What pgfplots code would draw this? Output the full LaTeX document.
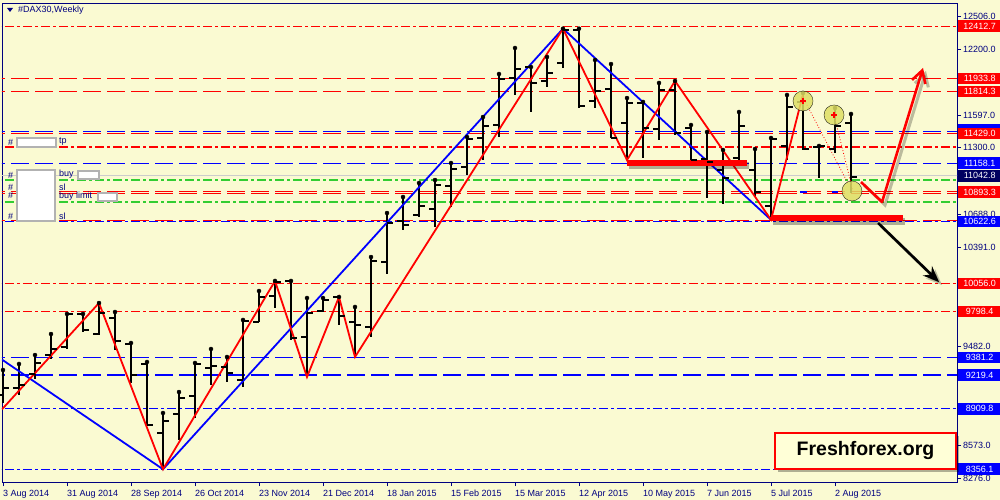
\documentclass[border=0pt]{standalone}
\usepackage{fontspec}
\setmainfont{Liberation Sans}
\usepackage{pgfplots}
\pgfplotsset{compat=1.18}
\usepackage{pgfplotstable}
\usetikzlibrary{arrows.meta}

\definecolor{bg}{RGB}{250,250,210}
\definecolor{navy}{RGB}{0,0,128}
\definecolor{mtred}{RGB}{255,0,0}
\definecolor{mtblue}{RGB}{0,0,255}
\definecolor{mtgreen}{RGB}{50,205,50}
\definecolor{circ}{RGB}{222,222,100}
\definecolor{labnavy}{RGB}{0,0,96}

\tikzset{
  mtdash/.style={dash pattern=on 18pt off 6pt},
  mtdashdot/.style={dash pattern=on 9pt off 3pt on 3pt off 3pt},
}

\pgfdeclareplotmark{ohlcopen}{\pgfpathmoveto{\pgfpoint{-6pt}{0pt}}\pgfpathlineto{\pgfpoint{0pt}{0pt}}\pgfusepathqstroke}
\pgfdeclareplotmark{ohlcclose}{\pgfpathmoveto{\pgfpoint{0pt}{0pt}}\pgfpathlineto{\pgfpoint{6pt}{0pt}}\pgfusepathqstroke}

% weekly bars, i = week from 3 Aug 2014
\pgfplotstableread{
i  o     h     l     c
0  9036  9265  8963  9100
1  9100  9320  9036  9127
2  9228  9402  9182  9329
3  9402  9594  9366  9457
4  9475  9778  9457  9778
5  9778  9778  9613  9631
6  9594  9878  9585  9787
7  9741  9796  9448  9530
8  9503  9512  9146  9219
9  9320  9338  8761  8761
10 8688  8871  8356  8798
11 8862  9063  8624  9008
12 9027  9329  8825  9320
13 9283  9457  9127  9301
14 9292  9384  9155  9237
15 9173  9723  9109  9713
16 9704  9988  9704  9933
17 9942  10080 9833  10071
18 10080 10080 9539  9558
19 9567  9924  9201  9787
20 9805  9924  9796  9906
21 9933  9933  9677  9759
22 9704  9842  9384  9677
23 9658  10299 9567  10263
24 10254 10702 10144 10611
25 10629 10849 10547 10592
26 10684 10977 10666 10766
27 10739 11004 10574 10959
28 10950 11160 10757 11105
29 11123 11398 11050 11380
30 11389 11581 11187 11499
31 11508 11975 11398 11929
32 11938 12213 11783 12021
33 12039 12039 11627 11893
34 11911 12131 11856 11984
35 12076 12390 12030 12380
36 12380 12390 11664 11682
37 11728 12103 11664 11819
38 11838 12066 11389 11389
39 11526 11755 11187 11709
40 11709 11719 11206 11480
41 11471 11893 11371 11828
42 11828 11911 11416 11435
43 11480 11508 11133 11187
44 11197 11444 10840 11169
45 11096 11279 10785 11023
46 11206 11627 11187 11499
47 11096 11288 10858 10895
48 10766 11389 10640 11380
49 11316 11783 11187 11673
50 11719 11801 11279 11288
51 11307 11316 11023 11316
52 11288 11664 11252 11499
53 11526 11609 10885 11032
}\ohlc

% level line: colour, style, price
\newcommand{\lvl}[3]{\addplot[draw=#1, line width=1.2pt, #2] coordinates {(-1,#3) (61,#3)};}
\newcommand{\plab}[3]{\node[fill=#2, text=white, anchor=west, minimum width=43pt,
  minimum height=11.5pt, inner sep=0pt, font=\fontsize{9}{10}\selectfont] at ([xshift=1pt]#1) {#3};}

\begin{document}
\begin{tikzpicture}[x=1pt,y=1pt]
\fill[bg] (0,0) rectangle (1000,500);
\useasboundingbox (0,0) rectangle (1000,500);

\begin{axis}[
  at={(2pt,18pt)}, anchor=south west,
  scale only axis, width=955pt, height=479pt,
  xmin=-0.0625, xmax=59.625, ymin=8239.3, ymax=12625,
  axis line style={navy, line width=0.8pt},
  tick style={navy, line width=0.8pt},
  tick align=outside, major tick length=4pt,
  xtick pos=bottom, ytick pos=right, yticklabel pos=right,
  xtick={0,4,...,52},
  xticklabels={3 Aug 2014, 31 Aug 2014, 28 Sep 2014, 26 Oct 2014, 23 Nov 2014,
    21 Dec 2014, 18 Jan 2015, 15 Feb 2015, 15 Mar 2015, 12 Apr 2015,
    10 May 2015, 7 Jun 2015, 5 Jul 2015, 2 Aug 2015},
  xticklabel style={anchor=north west, inner sep=0pt, yshift=-4pt, text=navy,
    font=\fontsize{9}{10}\selectfont},
  ytick={8276,8573,8870,9176,9482,9779,10085,10391,10688,10994,11300,11597,11894,12200,12506},
  yticklabels={8276.0, 8573.0, {}, {}, 9482.0, {}, {}, 10391.0, 10688.0, {},
    11300.0, 11597.0, {}, 12200.0, 12506.0},
  scaled y ticks=false, scaled x ticks=false,
  yticklabel style={anchor=west, inner sep=0pt, xshift=2pt, text=navy,
    font=\fontsize{9}{10}\selectfont},
]
% horizontal levels
\lvl{mtred}{mtdashdot}{12412.7}
\lvl{mtred}{mtdash}{11933.8}
\lvl{mtred}{mtdash}{11814.3}
\lvl{mtblue}{mtdash}{11445}
\lvl{mtred}{mtdash}{11429}
\lvl{mtred}{mtdashdot}{11307}
\lvl{mtblue}{mtdash}{11158.1}
\lvl{black!20}{solid}{11042.8}
\lvl{mtgreen}{mtdashdot}{11004}
\lvl{mtred}{mtdash}{10900}
\lvl{mtred}{mtdash}{10882}
\lvl{mtgreen}{mtdashdot}{10803}
\lvl{mtred}{mtdash}{10630}
\lvl{mtblue}{mtdashdot}{10622.6}
\lvl{mtred}{mtdashdot}{10056}
\lvl{mtred}{mtdashdot}{9798.4}
\lvl{mtblue}{mtdash}{9381.2}
\lvl{mtblue}{mtdash}{9219.4}
\lvl{mtblue}{mtdashdot}{8909.8}
\lvl{mtblue}{mtdashdot}{8356.1}

% OHLC bars
\addplot[only marks, mark=none, error bars/.cd, y dir=minus, y explicit,
  error mark=none, error bar style={black, line width=2.6pt}]
  table[x=i, y=h, y error minus expr=\thisrow{h}-\thisrow{l}] {\ohlc};
\addplot[only marks, mark=ohlcopen, mark options={black, line width=2.4pt}]
  table[x=i, y=o] {\ohlc};
\addplot[only marks, mark=ohlcclose, mark options={black, line width=2.4pt}]
  table[x=i, y=c] {\ohlc};

% zigzags
\addplot[draw=mtblue, line width=1.8pt] coordinates {(-0.0625,9360) (10,8356) (35,12390) (48,10640)};
\addplot[draw=mtred, line width=1.8pt] coordinates {(-0.0625,8905) (6,9878) (10,8356) (17,10080)
  (19,9201) (21,9933) (22,9384) (35,12390) (39,11187) (42,11911) (48,10640) (50,11790)};
\addplot[draw=mtred, line width=0.8pt, dotted] coordinates {(50,11760) (52.8,10977)};
\addplot[draw=mtred, line width=0.8pt, dotted] coordinates {(51.94,11600) (53.1,10913)};
\addplot[draw=mtblue, line width=1.2pt] coordinates {(49.8,10895) (50.25,10895)};
\addplot[draw=mtblue, line width=1.2pt] coordinates {(51.8,10895) (52.2,10895)};

% highlighted points
\addplot[only marks, mark=*, mark size=10pt, mark options={draw=none, fill=circ, opacity=0.85}]
  coordinates {(50,11728) (51.94,11600) (53.06,10904)};
\addplot[only marks, mark=+, mark size=3pt, mark options={mtred, line width=1.2pt}]
  coordinates {(50,11728) (51.94,11600)};

% support / resistance marks
\addplot[black, opacity=0.3, line width=7pt, xshift=2pt, yshift=-3pt] coordinates {(39,11162) (46.5,11162)};
\addplot[draw=mtred, line width=6pt] coordinates {(39,11162) (46.5,11162)};
\addplot[black, opacity=0.3, line width=7pt, xshift=2pt, yshift=-3pt] coordinates {(48,10652) (56.25,10652)};
\addplot[draw=mtred, line width=6pt] coordinates {(48,10652) (56.25,10652)};

% forecast arrows
\addplot[black, opacity=0.25, line width=3pt, xshift=3pt, yshift=-3pt, -{Straight Barb[length=12pt,width=14pt]}]
  coordinates {(53.625,10986) (54.94,10803) (57.5,12030)};
\addplot[draw=mtred, line width=2.6pt, line join=round, -{Straight Barb[length=12pt,width=14pt]}]
  coordinates {(53.625,10986) (54.94,10803) (57.5,12030)};
\addplot[black, opacity=0.25, line width=3pt, xshift=3pt, yshift=-3pt, -{Stealth[length=16pt,width=13pt]}]
  coordinates {(54.69,10611) (58.5,10070)};
\addplot[black, line width=2.6pt, -{Stealth[length=16pt,width=13pt]}]
  coordinates {(54.69,10611) (58.5,10070)};

\coordinate (p1) at (axis cs:59.625,12412.7);
\coordinate (p2) at (axis cs:59.625,11933.8);
\coordinate (p3) at (axis cs:59.625,11814.3);
\coordinate (p4) at (axis cs:59.625,11462);
\coordinate (p5) at (axis cs:59.625,11429);
\coordinate (p6) at (axis cs:59.625,11158.1);
\coordinate (p7) at (axis cs:59.625,11042.8);
\coordinate (p8) at (axis cs:59.625,10893.3);
\coordinate (p9) at (axis cs:59.625,10622.6);
\coordinate (p10) at (axis cs:59.625,10056);
\coordinate (p11) at (axis cs:59.625,9798.4);
\coordinate (p12) at (axis cs:59.625,9381.2);
\coordinate (p13) at (axis cs:59.625,9219.4);
\coordinate (p14) at (axis cs:59.625,8909.8);
\coordinate (p15) at (axis cs:59.625,8356.1);
\end{axis}

% price labels
\plab{p1}{mtred}{12412.7}
\plab{p2}{mtred}{11933.8}
\plab{p3}{mtred}{11814.3}
\plab{p4}{mtblue}{}
\plab{p5}{mtred}{11429.0}
\plab{p6}{mtblue}{11158.1}
\plab{p7}{labnavy}{11042.8}
\plab{p8}{mtred}{10893.3}
\plab{p9}{mtblue}{10622.6}
\plab{p10}{mtred}{10056.0}
\plab{p11}{mtred}{9798.4}
\plab{p12}{mtblue}{9381.2}
\plab{p13}{mtblue}{9219.4}
\plab{p14}{mtblue}{8909.8}
\plab{p15}{mtblue}{8356.1}

% chart caption
\fill[navy] (7,492) -- (13,492) -- (10,488) -- cycle;
\node[anchor=west, inner sep=0pt, text=navy, font=\fontsize{9}{10}\selectfont] at (18,490) {\#DAX30,Weekly};

% order labels (masked)
\begin{scope}[every node/.style={anchor=west, inner sep=0pt, text=navy, font=\fontsize{9}{10}\selectfont}]
\node at (8,358) {\#};
\node at (59,358) {tp};
\node at (8,325) {\#};
\node at (8,313) {\#};
\node at (8,305) {\#};
\node at (8,284) {\#};
\node at (59,326) {buy};
\node at (59,313) {sl};
\node at (59,304) {buy limit};
\node at (59,284) {sl};
\end{scope}
\filldraw[fill=white, draw=black!30, line width=2.5pt] (17,353) rectangle (56,362);
\filldraw[fill=white, draw=black!30, line width=2.5pt] (17,279) rectangle (55,330);
\filldraw[fill=white, draw=black!30, line width=2.5pt] (78,321) rectangle (99,329);
\filldraw[fill=white, draw=black!30, line width=2.5pt] (98,299) rectangle (117,307);

% watermark
\fill[black, opacity=0.3] (778,28) rectangle (959,64);
\filldraw[fill={rgb,255:red,255;green,255;blue,215}, draw=mtred, line width=2.5pt] (775,31) rectangle (956,67);
\node[font=\fontsize{19.5}{20}\selectfont\bfseries] at (865.5,49) {Freshforex.org};
\end{tikzpicture}
\end{document}
